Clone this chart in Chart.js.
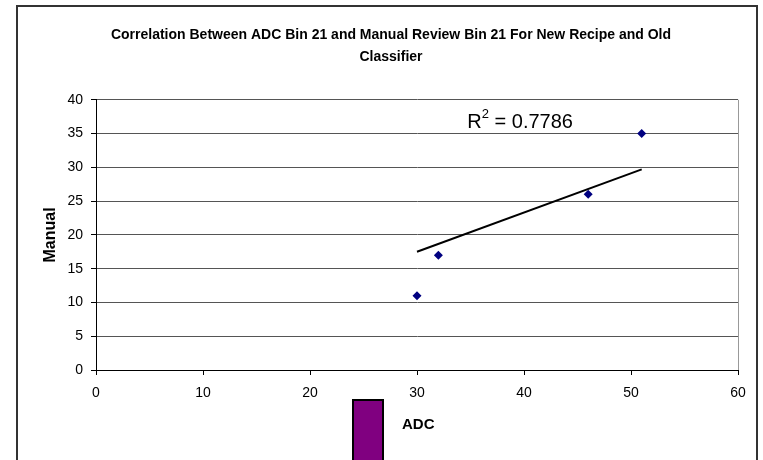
<!DOCTYPE html>
<html>
<head>
<meta charset="utf-8">
<script src="https://cdn.jsdelivr.net/npm/chart.js@4/dist/chart.umd.min.js"></script>
<style>
  html, body { margin: 0; padding: 0; background: #fff; overflow: hidden; }
  #frame {
    position: absolute;
    left: 16px;
    top: 5px;
    width: 738px;
    height: 540px;
    border: 2px solid #333;
    overflow: hidden;
  }
  canvas { display: block; }
</style>
</head>
<body>
<div id="frame"><canvas id="chart" width="738" height="540"></canvas></div>
<script>
// ADC bin 21 counts vs manual review counts
const adcValues = [30, 32, 46, 51];
const manualValues = [11, 17, 26, 35];

// linear trendline ends
const trendX = [30, 51];
const trendY = [17.5, 29.7];
const rSquared = '0.7786';

const titleLines = [
  'Correlation Between ADC Bin 21 and Manual Review Bin 21 For New Recipe and Old',
  'Classifier'
];
const seriesName = 'ADC';

const FONT = "'Liberation Sans', Arial, sans-serif";

// R² text drawn next to the trendline
const rSquaredLabel = {
  id: 'rSquaredLabel',
  afterDatasetsDraw(chart, args, opts) {
    const { ctx, scales } = chart;
    const x = scales.x.getPixelForValue(opts.x);
    const y = scales.y.getPixelForValue(opts.y);
    ctx.save();
    ctx.fillStyle = '#000';
    ctx.textBaseline = 'middle';
    ctx.textAlign = 'left';
    ctx.font = `20px ${FONT}`;
    ctx.fillText('R', x, y);
    let cx = x + ctx.measureText('R').width;
    ctx.font = `13px ${FONT}`;
    ctx.fillText('2', cx, y - 8);
    cx += ctx.measureText('2').width;
    ctx.font = `20px ${FONT}`;
    ctx.fillText(' = ' + rSquared, cx, y);
    ctx.restore();
  }
};

// tall swatch legend under the axis
const swatchLegend = {
  id: 'swatchLegend',
  afterDraw(chart, args, opts) {
    const { ctx } = chart;
    const ds = chart.data.datasets[0];
    ctx.save();
    ctx.fillStyle = opts.fill;
    ctx.strokeStyle = '#000';
    ctx.lineWidth = 2;
    ctx.fillRect(opts.left + 1, opts.top + 1, 30, 120);
    ctx.strokeRect(opts.left + 1, opts.top + 1, 30, 120);
    ctx.fillStyle = '#000';
    ctx.font = `bold 15px ${FONT}`;
    ctx.textBaseline = 'middle';
    ctx.fillText(ds.label, opts.left + 50, opts.top + 26);
    ctx.restore();
  }
};

new Chart(document.getElementById('chart'), {
  type: 'scatter',
  data: {
    datasets: [
      {
        label: seriesName,
        data: adcValues.map((x, i) => ({ x, y: manualValues[i] })),
        pointStyle: 'rectRot',
        pointRadius: 4.5,
        pointBackgroundColor: '#000080',
        pointBorderColor: '#000080',
        pointBorderWidth: 0,
        showLine: false
      },
      {
        label: 'Linear',
        data: trendX.map((x, i) => ({ x, y: trendY[i] })),
        showLine: true,
        borderColor: '#000',
        borderWidth: 2,
        pointRadius: 0
      }
    ]
  },
  options: {
    responsive: false,
    animation: false,
    devicePixelRatio: 1,
    layout: { padding: { left: 26, right: 18, top: 0, bottom: 0 } },
    plugins: {
      legend: { display: false },
      tooltip: { enabled: false },
      title: {
        display: true,
        text: titleLines,
        color: '#000',
        font: { family: FONT, size: 14, weight: 'bold', lineHeight: 1.6 },
        padding: { top: 17, bottom: 31 }
      },
      rSquaredLabel: { x: 34.7, y: 36.7 },
      swatchLegend: { left: 334, top: 392, fill: '#800080' }
    },
    scales: {
      x: {
        type: 'linear',
        min: 0,
        max: 60,
        ticks: { stepSize: 10, color: '#000', padding: 10, font: { family: FONT, size: 14 } },
        grid: {
          drawOnChartArea: true,
          color: (c) => (c.tick && c.tick.value === 60 ? '#999' : 'rgba(0,0,0,0)'),
          tickColor: '#000',
          tickLength: 5
        },
        border: { color: '#000', width: 1 },
        afterFit: (scale) => { scale.height = 540 - 93 - 270; }
      },
      y: {
        type: 'linear',
        min: 0,
        max: 40,
        ticks: { stepSize: 5, color: '#000', padding: 8, font: { family: FONT, size: 14 } },
        grid: { color: '#555', tickColor: '#000', tickLength: 5 },
        border: { color: '#000', width: 1 },
        title: {
          display: true,
          text: 'Manual',
          color: '#000',
          font: { family: FONT, size: 16, weight: 'bold', lineHeight: 1.2 },
          padding: { top: -3, bottom: 0 }
        },
        afterFit: (scale) => { scale.width = 52; }
      }
    }
  },
  plugins: [rSquaredLabel, swatchLegend]
});
</script>
</body>
</html>
